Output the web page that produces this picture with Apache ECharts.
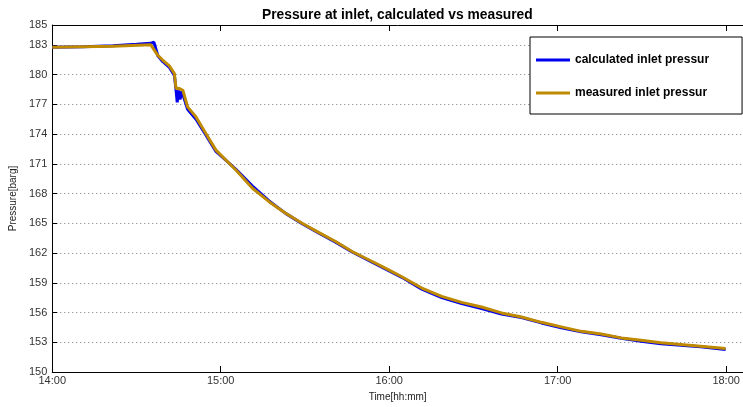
<!DOCTYPE html>
<html>
<head>
<meta charset="utf-8">
<script src="https://cdn.jsdelivr.net/npm/echarts@6/dist/echarts.min.js"></script>
<style>html,body{margin:0;padding:0;background:#fff}#c{width:743px;height:407px}</style>
</head>
<body>
<div id="c"></div>
<script>
// minutes after 14:00
var calcTimes = [0, 11, 21.6, 30, 35.1, 36.2, 37.6, 39.4, 41.8, 43.5, 44.1, 44.5, 45.0, 45.5, 46.2, 48.2, 51.2, 54.7, 58.3, 65.4, 71.3, 77.2, 83.1, 89.0, 95.0, 100.9, 106.8, 112.7, 118.6, 124.5, 131.6, 138.7, 145.8, 152.9, 160.0, 167.1, 174.2, 181.3, 188.4, 195.5, 202.6, 209.7, 216.8, 223.9, 230.9, 239.8];
var calcValues = [182.75, 182.80, 182.90, 183.05, 183.15, 183.28, 181.90, 181.30, 180.70, 179.90, 178.40, 177.20, 178.40, 177.50, 178.30, 176.50, 175.50, 173.90, 172.25, 170.45, 168.75, 167.25, 166.00, 164.95, 164.00, 163.10, 162.10, 161.25, 160.40, 159.55, 158.35, 157.50, 156.90, 156.40, 155.85, 155.50, 154.95, 154.45, 154.05, 153.75, 153.40, 153.10, 152.85, 152.70, 152.55, 152.28];
var measTimes = [0, 11, 21.6, 35.1, 35.8, 37.6, 39.4, 41.8, 43.5, 44.1, 45.3, 46.5, 48.2, 51.2, 54.7, 58.3, 65.4, 71.3, 77.2, 83.1, 89.0, 95.0, 100.9, 106.8, 112.7, 118.6, 124.5, 131.6, 138.7, 145.8, 152.9, 160.0, 167.1, 174.2, 181.3, 188.4, 195.5, 202.6, 209.7, 216.8, 223.9, 230.9, 239.8];
var measValues = [182.75, 182.80, 182.85, 183.00, 183.10, 181.94, 181.44, 180.84, 180.10, 178.59, 178.59, 178.42, 176.74, 175.73, 174.06, 172.38, 170.37, 168.53, 167.18, 166.02, 165.01, 164.06, 163.16, 162.15, 161.32, 160.48, 159.61, 158.47, 157.63, 157.02, 156.56, 155.96, 155.55, 155.01, 154.55, 154.10, 153.84, 153.44, 153.20, 152.94, 152.77, 152.60, 152.36];
var seriesNames = ['calculated inlet pressure', 'measured inlet pressure'];
var titleText = 'Pressure at inlet, calculated vs measured';
var xName = 'Time[hh:mm]';
var yName = 'Pressure[barg]';

function zip(a, b) { return a.map(function (t, i) { return [t, b[i]]; }); }
function fmtTime(v) {
  if (Math.abs(v % 60) > 1e-6) return '';
  var h = 14 + Math.round(v / 60);
  return h + ':00';
}
var FONT = 'Liberation Sans, Arial, sans-serif';
var chart = echarts.init(document.getElementById('c'), null, { renderer: 'canvas' });
chart.setOption({
  animation: false,
  backgroundColor: '#fff',
  title: {
    text: titleText, left: 257, top: 3,
    textStyle: { fontFamily: FONT, fontSize: 13.8, fontWeight: 'bold', color: '#000' }
  },
  grid: { left: 48, top: 25, right: 0, bottom: 35 },
  legend: {
    left: 530, top: 37, orient: 'vertical',
    backgroundColor: '#fff', borderColor: '#000', borderWidth: 1, borderRadius: 0,
    padding: [17, 33, 15, 6], itemGap: 21, itemWidth: 34, itemHeight: 3, itemTextGap: 5,
    icon: 'rect',
    textStyle: { fontFamily: FONT, fontSize: 12, fontWeight: 'bold', color: '#000', width: 139, overflow: 'truncate', ellipsis: '' },
    data: seriesNames
  },
  xAxis: [{
    type: 'value', min: 0, max: 246, interval: 60, position: 'bottom',
    name: xName, nameLocation: 'middle', nameGap: 20,
    nameTextStyle: { fontFamily: FONT, fontSize: 10, color: '#222' },
    axisLine: { lineStyle: { color: '#000', width: 1 } },
    axisTick: { inside: true, length: 6, lineStyle: { color: '#000' } },
    axisLabel: { formatter: fmtTime, fontFamily: FONT, fontSize: 11, color: '#333', margin: 3, showMaxLabel: false },
    splitLine: { show: false }
  }, {
    type: 'value', min: 0, max: 246, interval: 60, position: 'top',
    axisLine: { lineStyle: { color: '#000', width: 1 } },
    axisTick: { inside: true, length: 6, lineStyle: { color: '#000' } },
    axisLabel: { show: false },
    splitLine: { show: false }
  }],
  yAxis: {
    type: 'value', min: 150, max: 185, interval: 3,
    name: yName, nameLocation: 'middle', nameGap: 32,
    nameTextStyle: { fontFamily: FONT, fontSize: 10, color: '#222' },
    axisLine: { show: true, lineStyle: { color: '#000', width: 1 } },
    axisTick: { show: true, inside: true, length: 5, lineStyle: { color: '#000' } },
    axisLabel: { fontFamily: FONT, fontSize: 11, color: '#333', margin: 5 },
    splitLine: { show: true, lineStyle: { color: '#777', type: [1, 3], width: 1 } }
  },
  series: [{
    name: seriesNames[0], type: 'line', showSymbol: false, xAxisIndex: 0,
    data: zip(calcTimes, calcValues),
    lineStyle: { color: '#0000ee', width: 3 }, itemStyle: { color: '#0000ee' }
  }, {
    name: seriesNames[1], type: 'line', showSymbol: false, xAxisIndex: 0,
    data: zip(measTimes, measValues),
    lineStyle: { color: '#bf8a00', width: 3 }, itemStyle: { color: '#bf8a00' }
  }]
});
</script>
</body>
</html>
